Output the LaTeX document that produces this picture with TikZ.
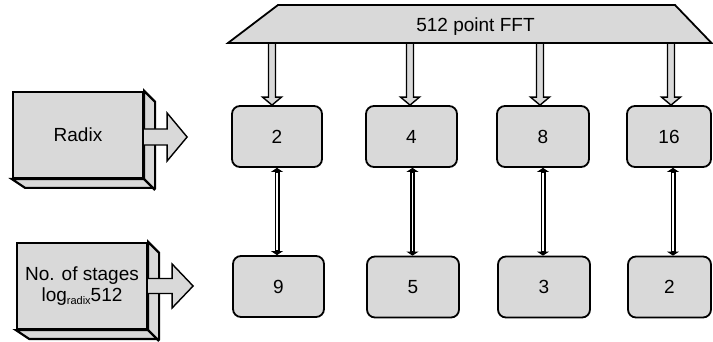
\documentclass[tikz,border=0pt]{standalone}
\usepackage{fontspec}
\setmainfont{Liberation Sans}
\usetikzlibrary{calc,arrows.meta}

\definecolor{boxgray}{RGB}{217,217,217}

% block arrow pointing down from the bar's lower edge (fftbase) to a box
\newcommand\downblk[2]{%
  \draw[blk] let \p1=([xshift=#2]#1.north), \p2=(fftbase) in
    (\x1-3.5pt,\y2) -- (\x1-3.5pt,\y1+8pt) -- (\x1-9.5pt,\y1+8pt) -- (\x1,\y1)
    -- (\x1+9.5pt,\y1+8pt) -- (\x1+3.5pt,\y1+8pt) -- (\x1+3.5pt,\y2);}

% block arrow pointing right: start point, shaft half-height, head half-height,
% shaft length, total length
\newcommand\rightblk[5]{%
  \draw[blk] let \p1=(#1) in
    (\x1,\y1+#2) -- (\x1+#4,\y1+#2) -- (\x1+#4,\y1+#3) -- (\x1+#5,\y1)
    -- (\x1+#4,\y1-#3) -- (\x1+#4,\y1-#2) -- (\x1,\y1-#2);}

% extruded side and bottom of a 3-D box
\newcommand\extrude[1]{%
  \draw[box3d] (#1.north east) -- ++(11,11) -- ++(0,86) -- ++(-130,0)
    -- (#1.south west) -- (#1.south east) -- cycle;
  \draw[box3d] (#1.south east) -- ++(11,11);}

% two-way hollow link between two points
\newcommand\twoway[2]{%
  \draw[linkout] (#1) -- (#2);
  \draw[linkin] (#1) -- (#2);}

\tikzset{
  txt/.style={font=\fontsize{19}{21}\selectfont},
  blk/.style={draw=black, fill=boxgray, line width=1.4pt, line join=miter},
  box3d/.style={draw=black, fill=boxgray, line width=2.2pt, line join=miter},
  front/.style={box3d, txt, rectangle, minimum width=130pt, minimum height=86pt,
    inner sep=0pt, align=center},
  rbox/.style={draw=black, fill=boxgray, line width=1.8pt, rounded corners=8pt,
    txt, minimum height=61pt, inner sep=0pt},
  linkout/.style={draw=black, line width=5pt,
    {Triangle[length=4pt,width=12pt]}-{Triangle[length=4pt,width=12pt]}},
  linkin/.style={draw=white, line width=1.4pt, shorten <=5pt, shorten >=5pt},
}

\begin{document}
\begin{tikzpicture}[x=1pt,y=-1pt]
\useasboundingbox (0,0) rectangle (713,342);

% lower edge of the top bar
\coordinate (fftbase) at (470,43);

% value boxes
\node[rbox, minimum width=90pt] (r1) at (277,136.5) {2};
\node[rbox, minimum width=91pt] (r2) at (411.5,136.5) {4};
\node[rbox, minimum width=92pt] (r3) at (543,136.5) {8};
\node[rbox, minimum width=84pt] (r4) at (669,136.5) {16};
\node[rbox, minimum width=91pt] (s1) at (278.5,286.5) {9};
\node[rbox, minimum width=92pt] (s2) at (413,287) {5};
\node[rbox, minimum width=92pt] (s3) at (544,287) {3};
\node[rbox, minimum width=83pt] (s4) at (669.5,287) {2};

% arrows from the FFT bar
\downblk{r1}{-5pt}
\downblk{r2}{-1.5pt}
\downblk{r3}{-3pt}
\downblk{r4}{2pt}

% FFT bar
\draw[draw=black, fill=boxgray, line width=1.8pt, line join=miter]
  (278,5) -- (675,5) -- (711.5,43) -- (228,43) -- cycle;
\node[txt, anchor=base] (fft) at (475.5,32) {512 point FFT};

% radix / stage links
\twoway{r1.south}{r1.south |- s1.north}
\twoway{[xshift=1pt]r2.south}{[xshift=1pt]r2.south |- s2.north}
\twoway{r3.south}{r3.south |- s3.north}
\twoway{[xshift=4pt]r4.south}{[xshift=4pt]r4.south |- s4.north}

% 3-D input boxes
\node[front] (radix) at (78,135) {};
\extrude{radix}
\node[front] (radix) at (78,135) {Radix};
\rightblk{[yshift=-2pt]radix.east}{8pt}{24pt}{23pt}{43pt}

\node[front] (stages) at (82,286) {};
\extrude{stages}
\node[front] (stages) at (82,286)
  {No. of stages\\log\raisebox{-3pt}{\fontsize{11}{11}\selectfont radix}512};
\rightblk{stages.east}{7.5pt}{22pt}{24pt}{45pt}
\end{tikzpicture}
\end{document}
